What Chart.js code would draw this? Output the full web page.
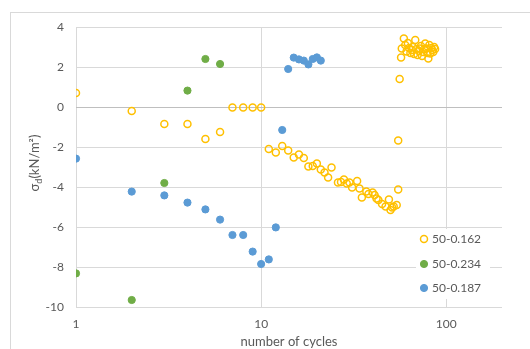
<!DOCTYPE html>
<html>
<head>
<meta charset="utf-8">
<script src="https://cdn.jsdelivr.net/npm/chart.js@4"></script>
<style>
  body { margin: 0; background: #fff; }
  canvas { display: block; }
</style>
</head>
<body>
<canvas id="cyclesChart" width="530" height="349"></canvas>
<script>
// series 50-0.162 (open yellow circles)
const cycles162 = [1, 2, 3, 4, 5, 6, 7, 8, 9, 10,
  11, 12, 13, 14, 15, 16, 17, 18, 19, 20, 21, 22, 23, 24, 26, 27, 28, 29, 30, 31,
  33, 34, 35, 37, 38, 40, 41, 42, 43, 45, 47, 49, 50, 51, 52, 54, 55, 55, 56,
  57, 57.5, 59, 60, 61, 62, 63, 64, 65, 66, 67, 68, 69, 70, 71, 72, 73, 74, 75,
  76, 77, 78, 79, 80, 81, 82, 83, 84, 85, 86, 87];
const sigma162 = [0.7, -0.2, -0.85, -0.85, -1.6, -1.25, -0.03, -0.03, -0.03, -0.03,
  -2.1, -2.27, -1.95, -2.18, -2.52, -2.37, -2.55, -2.98, -2.95, -2.83, -3.12, -3.28, -3.53, -3.03, -3.78, -3.75, -3.62, -3.82, -3.78, -4.02,
  -3.7, -4.07, -4.53, -4.23, -4.35, -4.28, -4.4, -4.57, -4.65, -4.85, -4.98, -4.62, -5.15, -5.02, -4.98, -4.9, -4.12, -1.68, 1.4,
  2.47, 2.93, 3.43, 3.1, 2.77, 3.2, 2.95, 2.7, 2.85, 3.0, 2.65, 3.35, 2.9, 2.6, 2.8, 2.93, 3.05, 2.55, 2.75,
  2.9, 3.18, 2.93, 2.7, 2.43, 3.1, 2.68, 2.95, 2.85, 2.75, 3.0, 2.9];

// series 50-0.234 (green)
const cycles234 = [1, 2, 3, 4, 5, 6];
const sigma234 = [-8.32, -9.65, -3.8, 0.82, 2.4, 2.15];

// series 50-0.187 (blue)
const cycles187 = [1, 2, 3, 4, 5, 6, 7, 8, 9, 10, 11, 12, 13, 14, 15, 16, 17, 18, 19, 20, 21];
const sigma187 = [-2.58, -4.23, -4.42, -4.78, -5.12, -5.63, -6.4, -6.4, -7.23, -7.85, -7.62, -6.02,
  -1.15, 1.9, 2.47, 2.38, 2.32, 2.13, 2.4, 2.48, 2.32];

const xTicks = [1, 10, 100];
const seriesNames = ["50-0.162", "50-0.234", "50-0.187"];

const toPoints = (xs, ys) => xs.map((x, i) => ({ x: x, y: ys[i] }));

const textColor = "#595959";
const fontFam = "Lato, 'Open Sans', sans-serif";

// legend box inside the plot + axis titles + outer frame
const decorPlugin = {
  id: "decor",
  beforeDraw(chart) {
    const ctx = chart.ctx;
    ctx.save();
    ctx.strokeStyle = "#d9d9d9";
    ctx.lineWidth = 1;
    ctx.strokeRect(10.5, 12.5, 600, 400);
    ctx.restore();
  },
  afterDraw(chart) {
    const ctx = chart.ctx;
    const area = chart.chartArea;
    ctx.save();

    // legend
    ctx.fillStyle = "#fff";
    ctx.fillRect(416, 229, 74, 70);
    const rows = [239, 264, 288];
    chart.data.datasets.forEach((ds, i) => {
      const y = rows[i];
      ctx.beginPath();
      ctx.arc(424, y, ds.pointRadius, 0, Math.PI * 2);
      if (ds.backgroundColor !== "rgba(0,0,0,0)") {
        ctx.fillStyle = ds.backgroundColor;
        ctx.fill();
      }
      ctx.strokeStyle = ds.borderColor;
      ctx.lineWidth = ds.borderWidth;
      ctx.stroke();
      ctx.fillStyle = textColor;
      ctx.font = "12px " + fontFam;
      ctx.textAlign = "left";
      ctx.textBaseline = "middle";
      ctx.fillText(ds.label, 432, y + 0.5);
    });

    // x title
    ctx.fillStyle = textColor;
    ctx.font = "13px " + fontFam;
    ctx.textAlign = "center";
    ctx.textBaseline = "middle";
    ctx.fillText("number of cycles", (area.left + area.right) / 2, 342);

    // y title with subscript d
    ctx.translate(35, 163);
    ctx.rotate(-Math.PI / 2);
    ctx.textAlign = "left";
    const big = "13px " + fontFam, small = "9px " + fontFam;
    ctx.font = big;
    const w1 = ctx.measureText("σ").width;
    const w3 = ctx.measureText("(kN/m²)").width;
    ctx.font = small;
    const w2 = ctx.measureText("d").width;
    let x = -(w1 + w2 + w3) / 2;
    ctx.font = big;
    ctx.fillText("σ", x, 0);
    x += w1;
    ctx.font = small;
    ctx.fillText("d", x, 4);
    x += w2;
    ctx.font = big;
    ctx.fillText("(kN/m²)", x, 0);
    ctx.restore();
  }
};

new Chart(document.getElementById("cyclesChart"), {
  type: "scatter",
  data: {
    datasets: [
      {
        label: seriesNames[0],
        data: toPoints(cycles162, sigma162),
        backgroundColor: "rgba(0,0,0,0)",
        borderColor: "#FFC000",
        borderWidth: 1.5,
        pointRadius: 3.5
      },
      {
        label: seriesNames[1],
        data: toPoints(cycles234, sigma234),
        backgroundColor: "#70AD47",
        borderColor: "#70AD47",
        borderWidth: 1,
        pointRadius: 3.6
      },
      {
        label: seriesNames[2],
        data: toPoints(cycles187, sigma187),
        backgroundColor: "#5B9BD5",
        borderColor: "#5B9BD5",
        borderWidth: 1,
        pointRadius: 3.6
      }
    ]
  },
  options: {
    responsive: false,
    animation: false,
    layout: { padding: { left: 0, right: 28, top: 27, bottom: 0 } },
    plugins: {
      legend: { display: false },
      tooltip: { enabled: false }
    },
    scales: {
      x: {
        type: "logarithmic",
        min: 1,
        max: 200,
        afterBuildTicks: s => { s.ticks = xTicks.map(v => ({ value: v })); },
        afterFit: s => { s.height = 42; },
        grid: { color: "#d9d9d9", drawTicks: false },
        border: { display: false },
        ticks: {
          color: textColor,
          font: { family: fontFam, size: 12 },
          padding: 10,
          maxRotation: 0,
          callback: v => String(v)
        }
      },
      y: {
        min: -10,
        max: 4,
        afterFit: s => { s.width = 76; },
        grid: {
          color: c => (c.tick && c.tick.value === 0 ? "#bfbfbf" : "#d9d9d9"),
          drawTicks: false
        },
        border: { display: false },
        ticks: {
          stepSize: 2,
          color: textColor,
          font: { family: fontFam, size: 12 },
          padding: 12
        }
      }
    }
  },
  plugins: [decorPlugin]
});
</script>
</body>
</html>
